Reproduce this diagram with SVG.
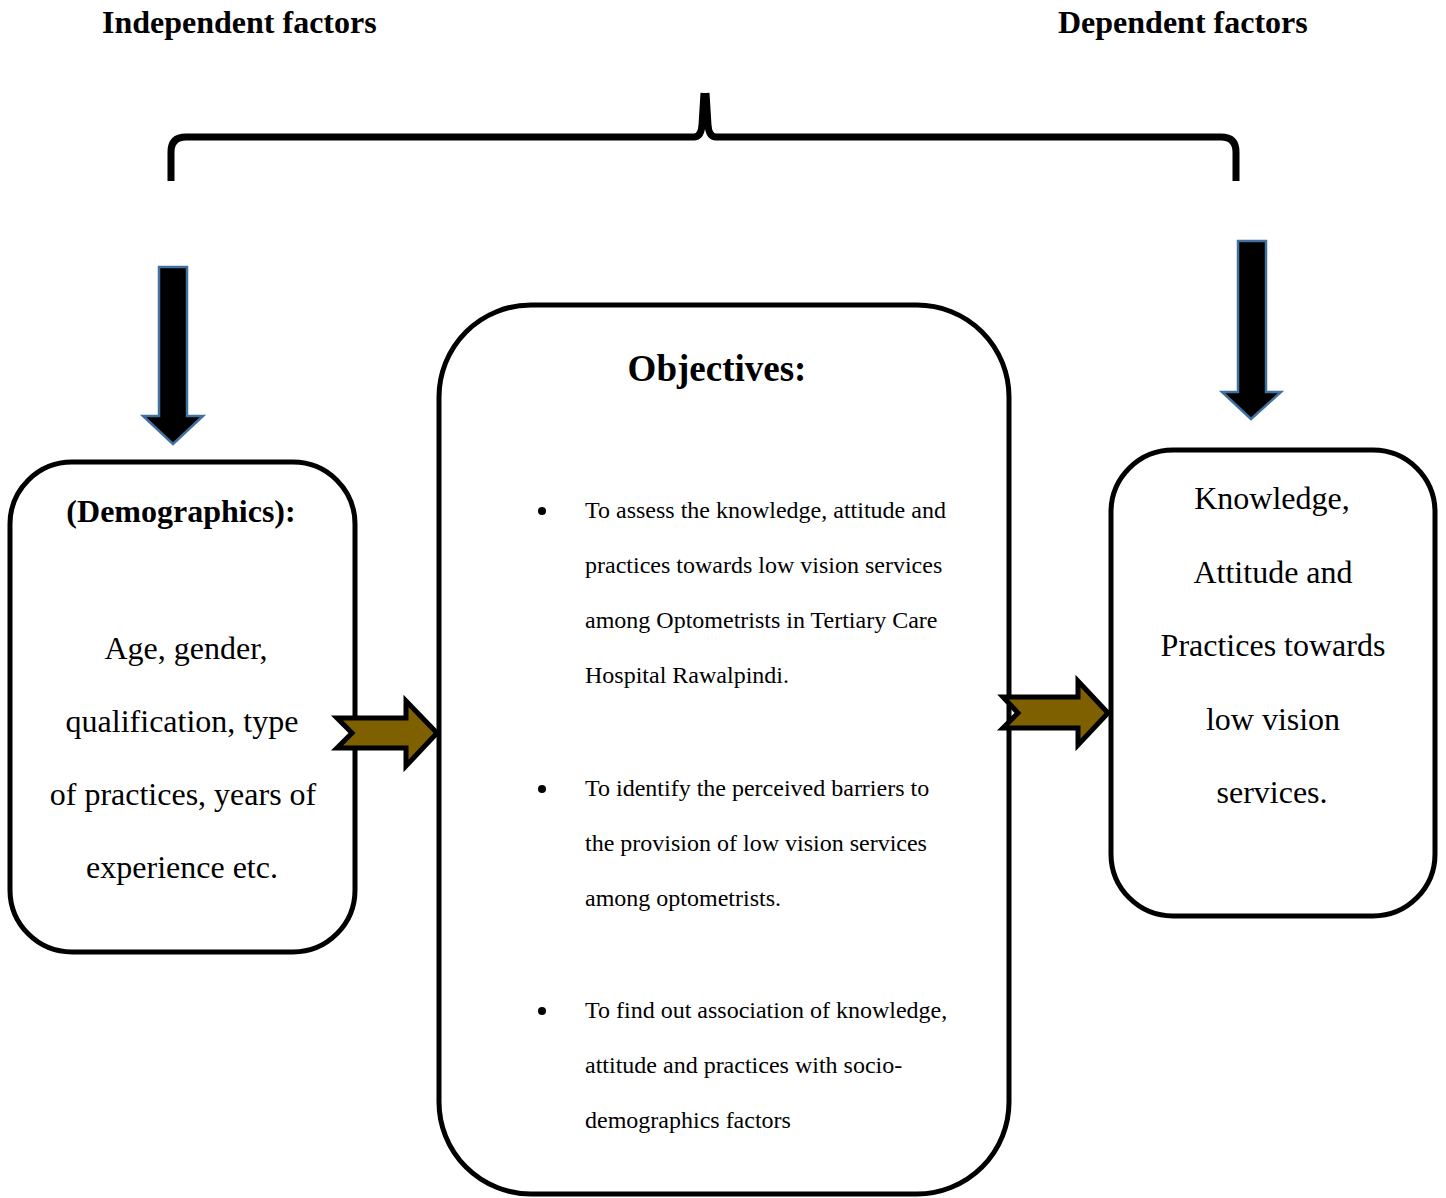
<svg xmlns="http://www.w3.org/2000/svg" width="1446" height="1198" viewBox="0 0 1446 1198">
<style>
text{font-family:"Liberation Serif","Times New Roman",serif;fill:#000}
.h{font-size:32px;font-weight:bold}
.big{font-size:32px}
.obj{font-size:24px}
.box{fill:#fff;stroke:#000;stroke-width:5}
.down{fill:#000;stroke:#41719C;stroke-width:2.5}
.right{fill:#7F6000;stroke:#000;stroke-width:5}
</style>
<rect width="1446" height="1198" fill="#fff"/>
<text class="h" x="102" y="33">Independent factors</text>
<text class="h" x="1058" y="33">Dependent factors</text>
<g id="demographics">
<rect class="box" x="10" y="462" width="345" height="490" rx="62"/>
<text class="h" x="181" y="522" text-anchor="middle">(Demographics):</text>
<text class="big" x="186" y="659" text-anchor="middle">Age, gender,</text>
<text class="big" x="182" y="732" text-anchor="middle">qualification, type</text>
<text class="big" x="183" y="805" text-anchor="middle">of practices, years of</text>
<text class="big" x="182" y="878" text-anchor="middle">experience etc.</text>
</g>
<g id="objectives">
<rect class="box" x="439" y="305" width="570" height="889" rx="92"/>
<text x="717" y="381" text-anchor="middle" style="font-size:37px;font-weight:bold">Objectives:</text>
<circle cx="542" cy="511" r="4"/><circle cx="542" cy="789" r="4"/><circle cx="542" cy="1011" r="4"/>
<text class="obj" x="585" y="518">To assess the knowledge, attitude and</text>
<text class="obj" x="585" y="573">practices towards low vision services</text>
<text class="obj" x="585" y="628">among Optometrists in Tertiary Care</text>
<text class="obj" x="585" y="683">Hospital Rawalpindi.</text>
<text class="obj" x="585" y="796">To identify the perceived barriers to</text>
<text class="obj" x="585" y="851">the provision of low vision services</text>
<text class="obj" x="585" y="906">among optometrists.</text>
<text class="obj" x="585" y="1018">To find out association of knowledge,</text>
<text class="obj" x="585" y="1073">attitude and practices with socio-</text>
<text class="obj" x="585" y="1128">demographics factors</text>
</g>
<g id="kap">
<rect class="box" x="1111" y="450" width="324" height="466" rx="62"/>
<text class="big" x="1272" y="509" text-anchor="middle">Knowledge,</text>
<text class="big" x="1273" y="583" text-anchor="middle">Attitude and</text>
<text class="big" x="1273" y="656" text-anchor="middle">Practices towards</text>
<text class="big" x="1273" y="730" text-anchor="middle">low vision</text>
<text class="big" x="1272" y="803" text-anchor="middle">services.</text>
</g>
<g id="connectors">
<path d="M171,181 L171,152 Q171,137 186,137 L694,137 Q701,137 702,125 L704,93 M1236,181 L1236,152 Q1236,137 1221,137 L716,137 Q709,137 708,125 L706,93" fill="none" stroke="#000" stroke-width="7"/>
<path class="down" d="M159,267 L187,267 L187,416 L203,416 L173,444 L143,416 L159,416 Z"/>
<path class="down" d="M1238,241 L1266,241 L1266,392 L1281,392 L1251,419 L1222,392 L1238,392 Z"/>
<path class="right" d="M337,718 L406,718 L406,701 L437,733 L406,766 L406,748 L337,748 L352,733 Z"/>
<path class="right" d="M1003,697 L1078,697 L1078,681 L1108,713 L1078,745 L1078,728 L1003,728 L1018,713 Z"/>
</g>
</svg>
